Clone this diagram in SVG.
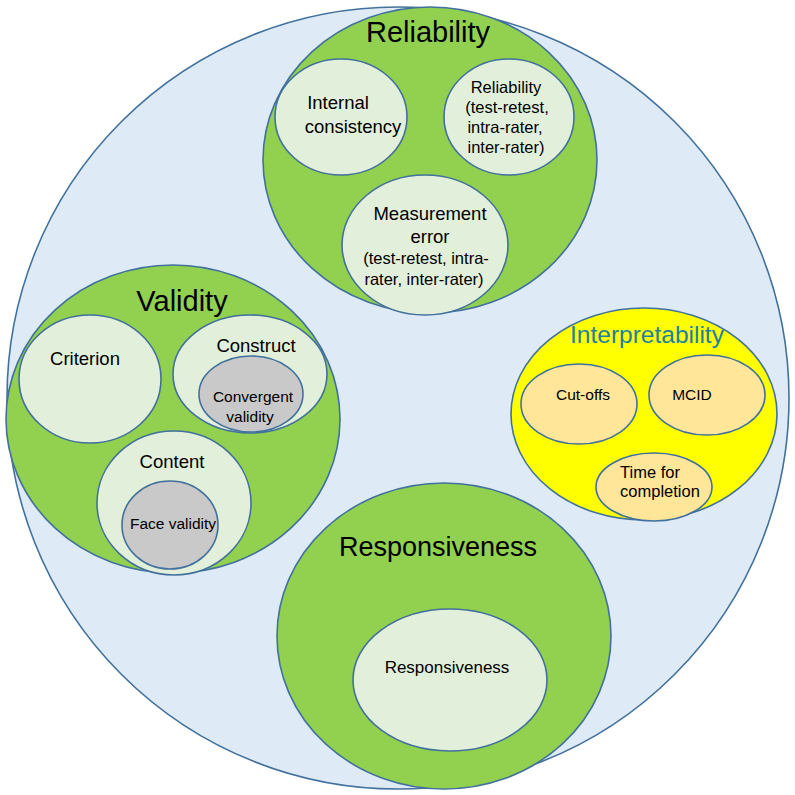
<svg xmlns="http://www.w3.org/2000/svg" width="795" height="795" viewBox="0 0 795 795">
<style>
ellipse{stroke:#41719C;stroke-width:1.6}
.outer{fill:#DEEBF7}
.green{fill:#92D050}
.light{fill:#E2EFDA}
.gray{fill:#C9C9C9}
.yellow{fill:#FFFF00}
.tan{fill:#FFE699}
text{font-family:"Liberation Sans",Arial,sans-serif;fill:#000;text-anchor:middle}
.t1{font-size:29px}
.t2{font-size:18.5px}
.t3{font-size:16.5px}
.t4{font-size:15.5px}
</style>
<g id="outer"><ellipse class="outer" cx="398" cy="398" rx="391" ry="391"/></g>

<g id="reliability">
<ellipse class="green" cx="430" cy="160" rx="167" ry="153"/>
<text class="t1" x="428" y="42">Reliability</text>
</g>
<g id="internal-consistency">
<ellipse class="light" cx="341" cy="117" rx="66" ry="58"/>
<text class="t2" x="338" y="109">Internal</text>
<text class="t2" x="353" y="133">consistency</text>
</g>
<g id="reliability-sub">
<ellipse class="light" cx="509" cy="117" rx="65" ry="58"/>
<text class="t3" x="506" y="93">Reliability</text>
<text class="t3" x="507" y="113">(test-retest,</text>
<text class="t3" x="505" y="133">intra-rater,</text>
<text class="t3" x="506" y="153">inter-rater)</text>
</g>
<g id="measurement-error">
<ellipse class="light" cx="425" cy="245" rx="83" ry="70"/>
<text class="t2" x="430" y="220">Measurement</text>
<text class="t2" x="430" y="243">error</text>
<text class="t3" x="426" y="264">(test-retest, intra-</text>
<text class="t3" x="424" y="285">rater, inter-rater)</text>
</g>

<g id="validity">
<ellipse class="green" cx="173" cy="419" rx="167" ry="154"/>
<text class="t1" x="182" y="311">Validity</text>
</g>
<g id="criterion">
<ellipse class="light" cx="90" cy="379" rx="71" ry="64"/>
<text class="t2" x="85" y="365">Criterion</text>
</g>
<g id="construct">
<ellipse class="light" cx="250" cy="374" rx="77" ry="59"/>
<text class="t2" x="256" y="352">Construct</text>
</g>
<g id="convergent-validity">
<ellipse class="gray" cx="251" cy="394" rx="52" ry="38"/>
<text class="t4" x="253" y="402">Convergent</text>
<text class="t4" x="250" y="422">validity</text>
</g>
<g id="content">
<ellipse class="light" cx="174" cy="503" rx="77" ry="72"/>
<text class="t2" x="172" y="468">Content</text>
</g>
<g id="face-validity">
<ellipse class="gray" cx="170" cy="525" rx="48" ry="44"/>
<text class="t4" x="173" y="529">Face validity</text>
</g>

<g id="interpretability">
<ellipse class="yellow" cx="644" cy="414" rx="133" ry="106"/>
<text x="647" y="343" style="font-size:24.5px;fill:#1F7FA6">Interpretability</text>
</g>
<g id="cut-offs">
<ellipse class="tan" cx="579" cy="404" rx="58" ry="40"/>
<text class="t4" x="583" y="400">Cut-offs</text>
</g>
<g id="mcid">
<ellipse class="tan" cx="707" cy="395" rx="58" ry="40"/>
<text class="t4" x="692" y="400">MCID</text>
</g>
<g id="time-for-completion">
<ellipse class="tan" cx="654" cy="487" rx="58" ry="34"/>
<text class="t3" x="650" y="478">Time for</text>
<text class="t3" x="660" y="497">completion</text>
</g>

<g id="responsiveness">
<ellipse class="green" cx="444" cy="636" rx="167" ry="153"/>
<text x="438" y="556" style="font-size:27px">Responsiveness</text>
</g>
<g id="responsiveness-sub">
<ellipse class="light" cx="450" cy="680" rx="97" ry="71"/>
<text x="447" y="673" style="font-size:17px">Responsiveness</text>
</g>
<g id="connectors"></g>
</svg>
